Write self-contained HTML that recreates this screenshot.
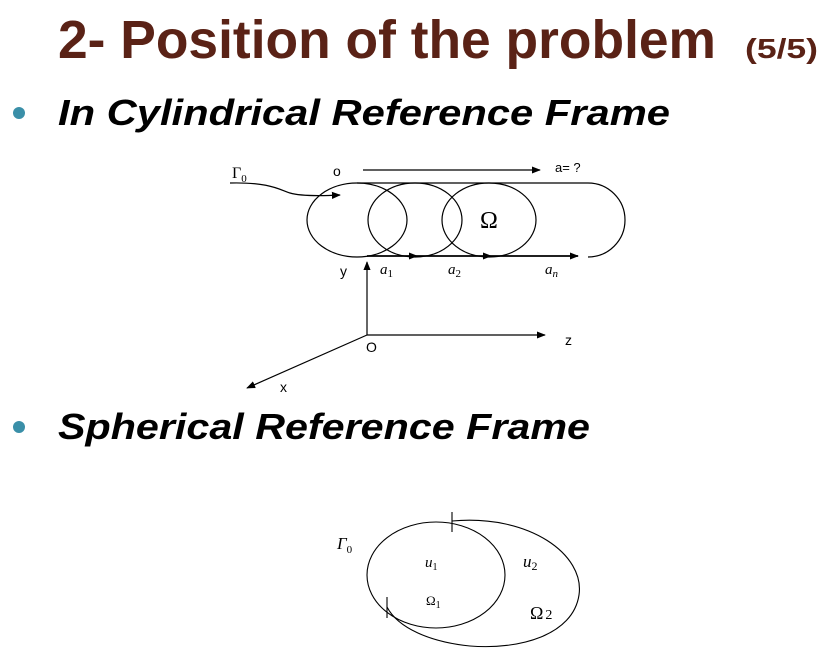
<!DOCTYPE html>
<html><head><meta charset="utf-8"><style>
body{margin:0;background:#fff;width:830px;height:668px;overflow:hidden}
svg{display:block}
</style></head><body>
<svg width="830" height="668" viewBox="0 0 830 668" xmlns="http://www.w3.org/2000/svg">
<defs>
<marker id="ah" viewBox="0 0 10 10" refX="9" refY="5" markerWidth="9" markerHeight="9" markerUnits="userSpaceOnUse" orient="auto"><path d="M0,1 L10,5 L0,9 z" fill="#000"/></marker>
</defs>
<text x="58" y="58" font-family="Liberation Sans, sans-serif" font-weight="bold" font-size="54" fill="#5a2216" textLength="658" lengthAdjust="spacingAndGlyphs">2- Position of the problem</text>
<text x="745" y="58" font-family="Liberation Sans, sans-serif" font-weight="bold" font-size="28" fill="#5a2216" textLength="73" lengthAdjust="spacingAndGlyphs">(5/5)</text>
<circle cx="19" cy="113" r="6" fill="#3a8fa8"/>
<text x="58" y="125" font-family="Liberation Sans, sans-serif" font-weight="bold" font-style="italic" font-size="36" fill="#000" textLength="612" lengthAdjust="spacingAndGlyphs">In Cylindrical Reference Frame</text>
<circle cx="19" cy="427" r="6" fill="#3a8fa8"/>
<text x="58" y="439" font-family="Liberation Sans, sans-serif" font-weight="bold" font-style="italic" font-size="36" fill="#000" textLength="532" lengthAdjust="spacingAndGlyphs">Spherical Reference Frame</text>

<g fill="none" stroke="#000" stroke-width="1.2">
<ellipse cx="357" cy="220" rx="50" ry="37"/>
<ellipse cx="415" cy="220" rx="47" ry="37"/>
<ellipse cx="489" cy="220" rx="47" ry="37"/>
<path d="M357,183 L588,183 A37,37 0 0 1 588,257"/>
<path d="M363,170 L540,170" marker-end="url(#ah)"/>
<path d="M230,183 C270,182 280,190 290,193 C300,196 320,196 340,195" marker-end="url(#ah)"/>
<path d="M367,256 L417,256" stroke-width="1.8" marker-end="url(#ah)"/>
<path d="M417,256 L491,256" stroke-width="1.8" marker-end="url(#ah)"/>
<path d="M491,256 L578,256" stroke-width="1.8" marker-end="url(#ah)"/>
<path d="M367,335 L367,262" marker-end="url(#ah)"/>
<path d="M367,335 L545,335" marker-end="url(#ah)"/>
<path d="M367,335 L247,388" marker-end="url(#ah)"/>
</g>
<g font-family="Liberation Sans, sans-serif" font-size="14" fill="#000">
<text x="333" y="176">o</text>
<text x="555" y="172" font-size="13">a= ?</text>
<text x="340" y="276">y</text>
<text x="565" y="345">z</text>
<text x="366" y="352">O</text>
<text x="280" y="392">x</text>
</g>
<g font-family="Liberation Serif, serif" fill="#000">
<text x="232" y="178" font-size="16">Γ<tspan font-size="11" dy="4">0</tspan></text>
<text x="480" y="228" font-size="24">Ω</text>
<text x="380" y="274" font-size="15" font-style="italic">a<tspan font-size="11" dy="3" font-style="normal">1</tspan></text>
<text x="448" y="274" font-size="15" font-style="italic">a<tspan font-size="11" dy="3" font-style="normal">2</tspan></text>
<text x="545" y="274" font-size="15" font-style="italic">a<tspan font-size="11" dy="3">n</tspan></text>
</g>

<g fill="none" stroke="#000" stroke-width="1.1">
<ellipse cx="436" cy="575" rx="69" ry="53"/>
<path d="M452,521 C530,514 585,555 579,595 C573,635 520,650 470,646 C430,642 398,628 387,607"/>
<path d="M452,512 L452,532"/>
<path d="M387,597 L387,618"/>
</g>
<g font-family="Liberation Serif, serif" fill="#000">
<text x="337" y="549" font-size="17" font-style="italic">Γ<tspan font-size="11" dy="4" font-style="normal">0</tspan></text>
<text x="425" y="567" font-size="15" font-style="italic">u<tspan font-size="10" dy="3" font-style="normal">1</tspan></text>
<text x="523" y="567" font-size="17" font-style="italic">u<tspan font-size="12" dy="3" font-style="normal">2</tspan></text>
<text x="426" y="605" font-size="13">Ω<tspan font-size="10" dy="3">1</tspan></text>
<text x="530" y="619" font-size="18">Ω<tspan font-size="14" dx="2">2</tspan></text>
</g>
</svg>
</body></html>
